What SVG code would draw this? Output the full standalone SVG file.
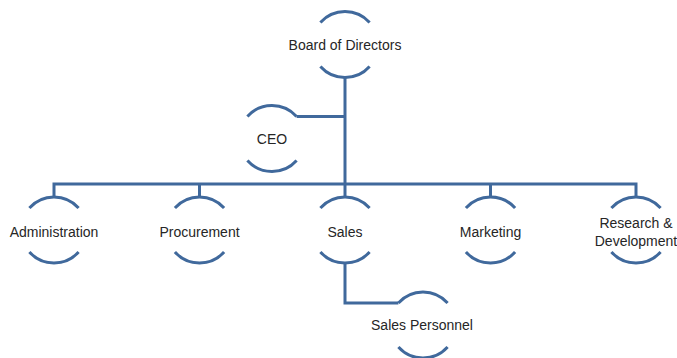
<svg xmlns="http://www.w3.org/2000/svg" xmlns:xlink="http://www.w3.org/1999/xlink" width="677" height="358" viewBox="0 0 677 358">
  <style>
    .ln { fill: none; stroke: #40699c; stroke-width: 3; }
    .lbl { font-family: "Liberation Sans", Arial, sans-serif; font-size: 14px; fill: #262626; text-anchor: middle; }
  </style>
  <defs>
    <path id="ring" class="ln" d="M-24.6,-22 A33,33 0 0 1 24.6,-22 M-24.6,22 A33,33 0 0 0 24.6,22"/>
  </defs>
  <rect width="677" height="358" fill="#ffffff"/>
  <g id="connectors" class="ln">
    <path d="M345,77.5 V197"/>
    <path d="M296.6,116.5 H345"/>
    <path d="M54,197 V184 H636 V197"/>
    <path d="M199.5,184 V197"/>
    <path d="M490.5,184 V197"/>
    <path d="M345,263 V303 H398.4"/>
  </g>
  <g id="board">
    <use xlink:href="#ring" href="#ring" x="345" y="44.5"/>
    <text class="lbl" x="345" y="49.5">Board of Directors</text>
  </g>
  <g id="ceo">
    <use xlink:href="#ring" href="#ring" x="272" y="138.5"/>
    <text class="lbl" x="272" y="143.5">CEO</text>
  </g>
  <g id="administration">
    <use xlink:href="#ring" href="#ring" x="54" y="230"/>
    <text class="lbl" x="54" y="237">Administration</text>
  </g>
  <g id="procurement">
    <use xlink:href="#ring" href="#ring" x="199.5" y="230"/>
    <text class="lbl" x="199.5" y="237">Procurement</text>
  </g>
  <g id="sales">
    <use xlink:href="#ring" href="#ring" x="345" y="230"/>
    <text class="lbl" x="345" y="237">Sales</text>
  </g>
  <g id="marketing">
    <use xlink:href="#ring" href="#ring" x="490.5" y="230"/>
    <text class="lbl" x="490.5" y="237">Marketing</text>
  </g>
  <g id="rnd">
    <use xlink:href="#ring" href="#ring" x="636" y="230"/>
    <text class="lbl" x="636" y="228">Research &amp;</text>
    <text class="lbl" x="636" y="246">Development</text>
  </g>
  <g id="sales-personnel">
    <use xlink:href="#ring" href="#ring" x="423" y="325"/>
    <text class="lbl" x="422" y="330">Sales Personnel</text>
  </g>
</svg>
